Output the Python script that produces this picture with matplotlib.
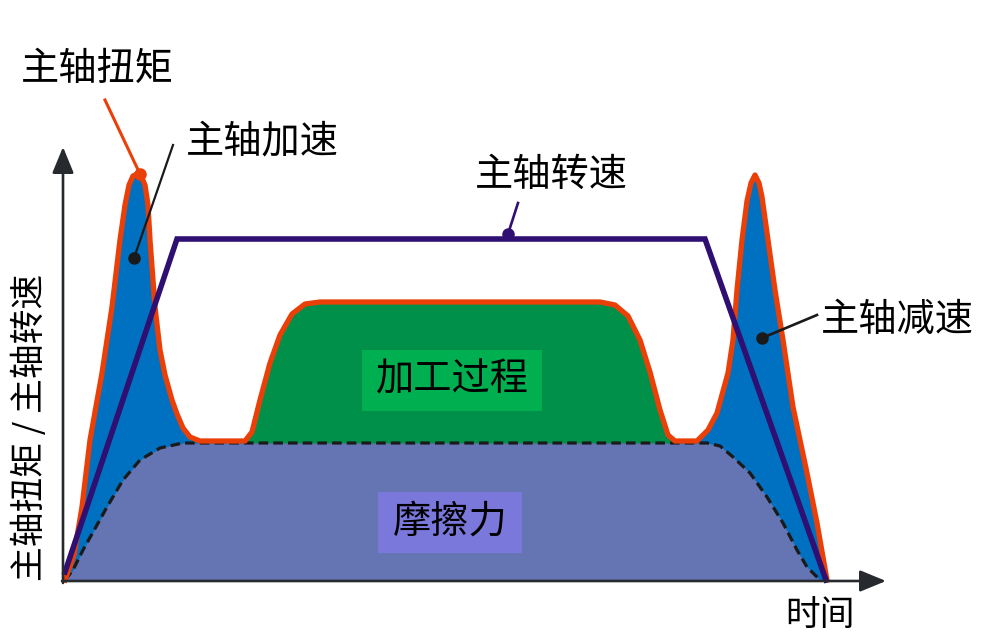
"""
Spindle torque / spindle speed schematic over one machining cycle.
"""

import matplotlib.pyplot as plt
from matplotlib.patches import Rectangle

plt.rcParams['font.family'] = ['Noto Sans CJK SC', 'DejaVu Sans']

# spindle torque (outline of accel peak, machining hump, decel peak)
torque_t = [2, 11, 19, 27, 39, 49, 57, 62, 66, 70, 74, 78, 82, 85, 87, 92, 97,
            102, 109, 114, 120, 127, 137, 182, 189, 197, 207, 217, 229, 242, 257,
            537, 552, 565, 577, 587, 597, 605, 612, 634, 645, 654, 665, 670,
            674, 679, 684, 688, 692, 696, 699, 705, 712, 720, 730, 744, 754, 764]
torque_v = [1, 26, 74, 141, 208, 274, 341, 376, 396, 405, 407, 405, 396, 376,
            341, 274, 231, 206, 181, 167, 153, 144, 140, 140, 149, 181, 218, 246,
            267, 277, 279, 279, 276, 265, 241, 209, 171, 146, 140, 140, 151,
            168, 208, 241, 291, 341, 380, 398, 406, 398, 384, 341, 291, 241,
            174, 108, 58, 1]

# friction torque
friction_t = [2, 10, 20, 34, 44, 60, 77, 97, 120, 644, 657, 670, 687, 704,
              720, 734, 744, 757]
friction_v = [1, 11, 31, 56, 74, 101, 121, 133, 138, 138, 135, 124, 108, 84,
              58, 31, 14, 1]

# spindle speed
speed_t = [2, 114, 642, 763]
speed_v = [9, 342, 342, 1]

# machining phase limits on the time axis
cut_start, cut_end = 182, 612

ORANGE = '#EA4008'
BLUE = '#0070C0'
GREEN = '#00904A'
FRICTION = '#6574B2'
PURPLE = '#300F72'
AXIS = '#262A2E'

fig = plt.figure(figsize=(9.82, 6.42), dpi=100)
ax = fig.add_axes([0, 0, 1, 1])
ax.set_xlim(-63, 919)
ax.set_ylim(-61, 581)
ax.axis('off')

# fills
ax.fill_between(torque_t, torque_v, 0, color=BLUE, lw=0, zorder=1)
mask = [cut_start <= t <= cut_end for t in torque_t]
ax.fill_between(torque_t, torque_v, 0, where=mask, color=GREEN, lw=0, zorder=2)
ax.fill_between(friction_t, friction_v, 0, color=FRICTION, lw=0, zorder=3)

# outlines
ax.plot(friction_t, friction_v, color='#1A1A1A', lw=2.3, ls=(0, (3.0, 1.6)), zorder=4)
ax.plot(torque_t, torque_v, color=ORANGE, lw=3.8, solid_joinstyle='round', zorder=5)
ax.plot(speed_t, speed_v, color=PURPLE, lw=4.0, solid_joinstyle='miter', zorder=6)

# axes arrows
arrow = dict(arrowstyle='-|>,head_length=0.8,head_width=0.33', mutation_scale=20,
             lw=1.9, color=AXIS, shrinkA=0, shrinkB=0)
ax.annotate('', xy=(0, 434), xytext=(0, -2), arrowprops=arrow, zorder=7)
ax.annotate('', xy=(823, 0), xytext=(-1, 0), arrowprops=arrow, zorder=7)

# leader lines
ax.plot([42, 77], [481, 407], color=ORANGE, lw=2.2, zorder=8)
ax.plot([77], [407], 'o', color=ORANGE, ms=8, zorder=8)
ax.plot([110, 71], [436, 323], color='#1A1A1A', lw=1.6, zorder=8)
ax.plot([71], [323], 'o', color='#1A1A1A', ms=8, zorder=8)
ax.plot([455, 445], [378, 347], color=PURPLE, lw=1.9, zorder=8)
ax.plot([445], [347], 'o', color=PURPLE, ms=8, zorder=8)
ax.plot([754, 699], [266, 243], color='#1A1A1A', lw=1.9, zorder=8)
ax.plot([699], [243], 'o', color='#1A1A1A', ms=8, zorder=8)

# labels
fs = 27.5
ax.text(34, 512, '主轴扭矩', fontsize=fs, ha='center', va='center')
ax.text(199, 439, '主轴加速', fontsize=fs, ha='center', va='center')
ax.text(488, 406, '主轴转速', fontsize=fs, ha='center', va='center')
ax.text(834, 261, '主轴减速', fontsize=fs, ha='center', va='center')

ax.add_patch(Rectangle((299, 170), 180, 61, color='#00B050', lw=0, zorder=9))
ax.text(389, 201, '加工过程', fontsize=fs, ha='center', va='center', zorder=10)
ax.add_patch(Rectangle((315, 28), 144, 61, color='#7B78DC', lw=0, zorder=9))
ax.text(387, 59, '摩擦力', fontsize=fs, ha='center', va='center', zorder=10)

ax.text(-33, 154, '主轴扭矩 / 主轴转速', fontsize=25, rotation=90,
        ha='center', va='center')
ax.text(757, -35, '时间', fontsize=25, ha='center', va='center')

plt.savefig('out.png', dpi=100)
